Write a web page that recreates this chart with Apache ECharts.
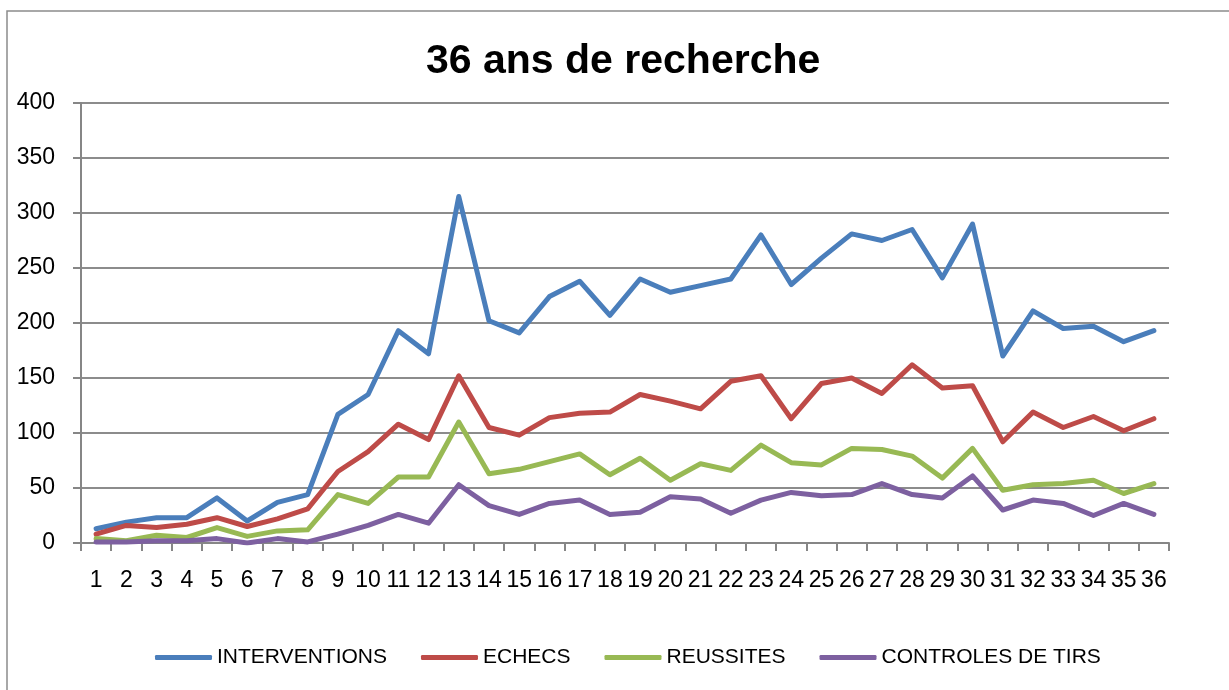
<!DOCTYPE html>
<html>
<head>
<meta charset="utf-8">
<script src="https://cdn.jsdelivr.net/npm/echarts@6/dist/echarts.min.js"></script>
<style>
  html, body { margin: 0; padding: 0; background: #fff; }
  #chart { width: 1229px; height: 690px; }
</style>
</head>
<body>
<div id="chart"></div>
<script>
const years = ['1','2','3','4','5','6','7','8','9','10','11','12','13','14','15','16','17','18',
  '19','20','21','22','23','24','25','26','27','28','29','30','31','32','33','34','35','36']

const interventions = [13,19,23,23,41,20,37,44,117,135,193,172,315,202,191,224,238,207,
  240,228,234,240,280,235,259,281,275,285,241,290,170,211,195,197,183,193]
const echecs = [8,16,14,17,23,15,22,31,65,83,108,94,152,105,98,114,118,119,
  135,129,122,147,152,113,145,150,136,162,141,143,92,119,105,115,102,113]
const reussites = [4,2,7,5,14,6,11,12,44,36,60,60,110,63,67,74,81,62,
  77,57,72,66,89,73,71,86,85,79,59,86,48,53,54,57,45,54]
const controles = [1,1,2,2,4,0,4,1,8,16,26,18,53,34,26,36,39,26,
  28,42,40,27,39,46,43,44,54,44,41,61,30,39,36,25,36,26]

const FONT = '"Liberation Sans", Arial, sans-serif'

const chart = echarts.init(document.getElementById('chart'))

const mkLine = (name, data, color) => ({
  name: name,
  type: 'line',
  data: data,
  symbol: 'none',
  smooth: false,
  lineStyle: { width: 5, color: color, cap: 'round', join: 'round' },
  itemStyle: { color: color }
})

chart.setOption({
  animation: false,
  backgroundColor: '#fff',
  textStyle: { fontFamily: FONT },
  graphic: [
    {
      type: 'rect',
      shape: { x: 7, y: 11, width: 1400, height: 900 },
      style: { fill: 'none', stroke: '#8c8c8c', lineWidth: 1.5 },
      silent: true
    }
  ],
  title: {
    text: '36 ans de recherche',
    left: 426,
    top: 41,
    padding: 0,
    textStyle: { fontFamily: FONT, fontSize: 41, fontWeight: 'bold', color: '#000' }
  },
  legend: {
    top: 647,
    left: 155,
    padding: 0,
    icon: 'roundRect',
    itemWidth: 57,
    itemHeight: 5,
    itemGap: 34,
    textStyle: { fontFamily: FONT, fontSize: 21, color: '#000' },
    data: ['INTERVENTIONS', 'ECHECS', 'REUSSITES', 'CONTROLES DE TIRS']
  },
  grid: { left: 81, right: 60, top: 103, bottom: 147, containLabel: false },
  xAxis: {
    type: 'category',
    data: years,
    boundaryGap: true,
    axisLine: { lineStyle: { color: '#868686', width: 2 } },
    axisTick: { show: true, length: 8, inside: false, alignWithLabel: false,
      lineStyle: { color: '#868686', width: 2 } },
    axisLabel: { interval: 0, margin: 26, fontSize: 23, color: '#000', fontFamily: FONT },
    splitLine: { show: false }
  },
  yAxis: {
    type: 'value',
    min: 0,
    max: 400,
    interval: 50,
    axisLine: { show: true, lineStyle: { color: '#868686', width: 2 } },
    axisTick: { show: true, length: 8, inside: false, lineStyle: { color: '#868686', width: 2 } },
    axisLabel: { margin: 26, fontSize: 23, color: '#000', fontFamily: FONT },
    splitLine: { show: true, lineStyle: { color: '#8c8c8c', width: 2 } }
  },
  series: [
    mkLine('INTERVENTIONS', interventions, '#4a7ebb'),
    mkLine('ECHECS', echecs, '#be4b48'),
    mkLine('REUSSITES', reussites, '#98b954'),
    mkLine('CONTROLES DE TIRS', controles, '#7d60a0')
  ]
})
</script>
</body>
</html>
